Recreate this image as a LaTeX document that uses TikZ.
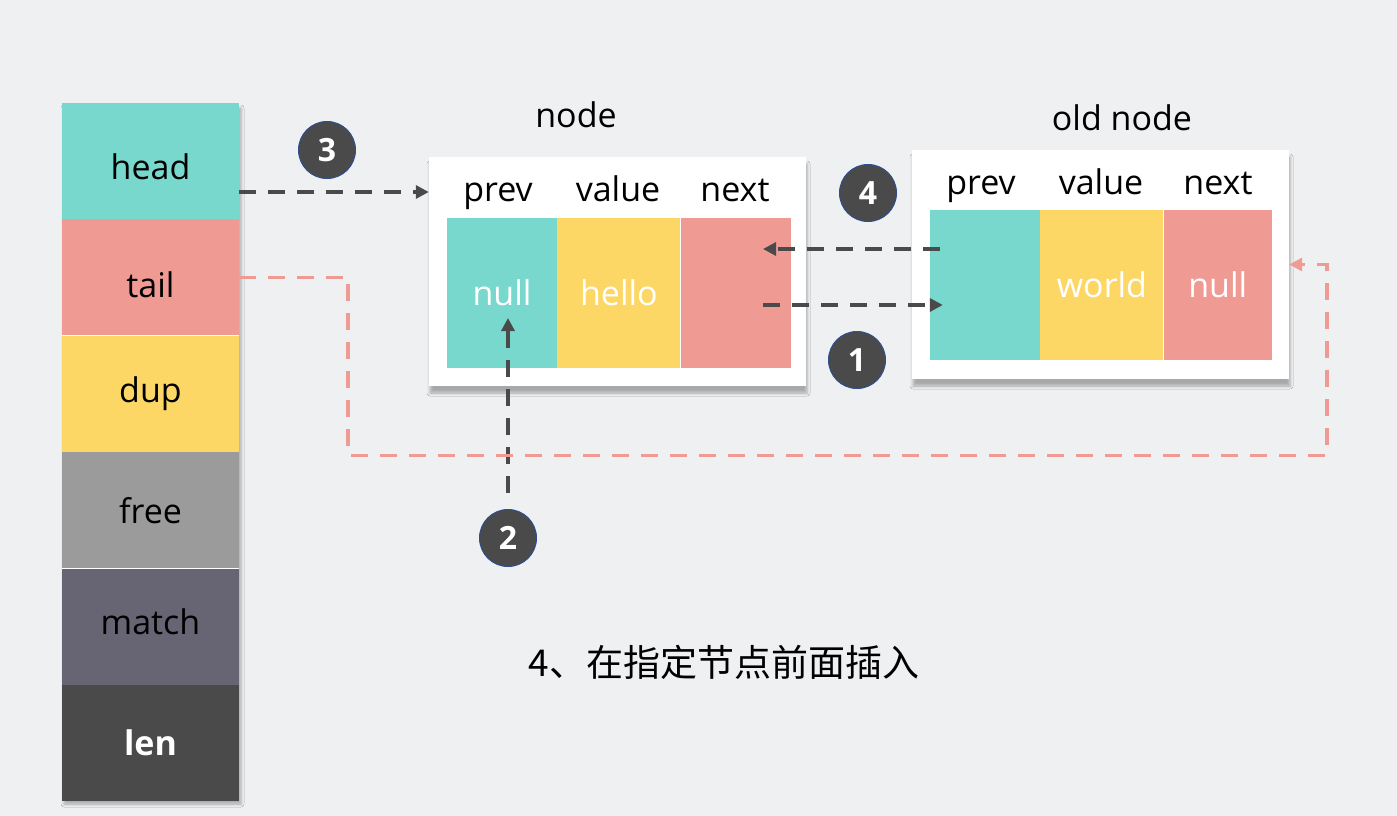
\documentclass[tikz,border=0pt]{standalone}
\usepackage{fontspec}
\setmainfont{Open Sans}
\newfontfamily\cjk{Noto Sans CJK SC}
\usepackage{tikz}
\usetikzlibrary{arrows.meta,positioning,shadows.blur}
\definecolor{bg_gray}{HTML}{EFF0F2}
\definecolor{cell_teal}{HTML}{79D8CE}
\definecolor{cell_pink}{HTML}{F09A94}
\definecolor{cell_yellow}{HTML}{FCD766}
\definecolor{cell_gray}{HTML}{9B9B9B}
\definecolor{cell_slate}{HTML}{676573}
\definecolor{cell_dark}{HTML}{4A4A4A}
\definecolor{badge_rim}{HTML}{2E4E8E}
\tikzset{
slot/.style={rectangle, inner sep=0pt, minimum width=177pt, minimum height=116pt, text=black, font=\fontsize{34}{40}\selectfont},
node_box/.style={rectangle, fill=white, inner sep=0pt, minimum width=377pt, minimum height=229pt, blur shadow={shadow xshift=1pt, shadow yshift=-7pt, shadow blur radius=3pt, shadow opacity=30}},
field_cell/.style={rectangle, inner sep=0pt, minimum height=150pt, text=white, font=\fontsize{34}{40}\selectfont},
field_name/.style={anchor=base, text=black, font=\fontsize{34}{40}\selectfont},
badge/.style={circle, fill=cell_dark, draw=badge_rim, line width=1pt, minimum size=57pt, inner sep=0pt, text=white, font=\bfseries\fontsize{32}{38}\selectfont},
link/.style={draw=cell_dark, line width=3.5pt, dash pattern=on 17pt off 12pt, -{Triangle[length=13pt,width=13pt]}},
tail_link/.style={draw=cell_pink, line width=3.5pt, dash pattern=on 17pt off 12pt, -{Triangle[length=13pt,width=13pt]}}
}

\begin{document}
\begin{tikzpicture}[x=1pt, y=-1pt]
    \path[use as bounding box, fill=bg_gray] (0,0) rectangle (1397,816);
    \fill[white, blur shadow={shadow xshift=2pt, shadow yshift=-5pt, shadow blur radius=3pt, shadow opacity=30}] (62,103) rectangle (239,799);

    \node[slot, fill=cell_teal, text height=36pt, text depth=0pt] (head) at (150.5,161) {head};
    \node[slot, fill=cell_pink, text height=40pt, text depth=0pt] (tail) [below=0 of head] {tail};
    \node[slot, fill=cell_yellow] (dup) [below=0 of tail] {dup};
    \node[slot, fill=cell_gray] (free) [below=0 of dup] {free};
    \node[slot, fill=cell_slate, text height=16pt, text depth=0pt] (match) [below=0 of free] {match};
    \node[slot, fill=cell_dark, text=white, font=\bfseries\fontsize{34}{40}\selectfont] (len) [below=0 of match] {len};

    \node[node_box] (new_box) at (617.5,271.5) {};
    \node[field_name] (new_title) at (576,127) {node};
    \node[field_cell, fill=cell_teal, minimum width=110pt] (prev_cell) at (502,293) {null};
    \node[field_cell, fill=cell_yellow, minimum width=123pt] (value_cell) [right=0 of prev_cell] {hello};
    \node[field_cell, fill=cell_pink, minimum width=110pt] (next_cell) [right=0 of value_cell] {};
    \node[field_name] (prev_name) at (498,201) {prev};
    \node[field_name] (value_name) at (618,201) {value};
    \node[field_name] (next_name) at (735,201) {next};

    \node[node_box] (old_box) at (1100.5,264.5) {};
    \node[field_name] (old_title) at (1122,130) {old node};
    \node[field_cell, fill=cell_teal, minimum width=110pt] (old_prev) at (985,285) {};
    \node[field_cell, fill=cell_yellow, minimum width=123pt] (old_value) [right=0 of old_prev] {world};
    \node[field_cell, fill=cell_pink, minimum width=108pt] (old_next) [right=0 of old_value] {null};
    \node[field_name] (old_prev_name) at (981,194) {prev};
    \node[field_name] (old_value_name) at (1101,194) {value};
    \node[field_name] (old_next_name) at (1218,194) {next};

    \node[badge] (badge_3) at (327,150) {3};
    \node[badge] (badge_4) at (868,193) {4};
    \node[badge] (badge_1) at (857,360) {1};
    \node[badge] (badge_2) at (508,538) {2};

    \draw[link] ([yshift=-31pt]head.east) -- ([yshift=-31pt]head.east -| new_box.west);
    \draw[link] ([xshift=10pt,yshift=36pt]old_prev.west) -- ([xshift=-28pt,yshift=44pt]next_cell.east);
    \draw[link] ([xshift=-28pt,yshift=-12pt]next_cell.east) -- ([xshift=13pt,yshift=-20pt]old_prev.west);
    \draw[link] ([yshift=16pt]badge_2.north) -- ([yshift=-25pt]badge_2.north |- prev_cell.center);
    \draw[tail_link] (tail.east) -- ++(109,0) -- ++(0,178) -| ([xshift=38pt]old_box.east) -- (old_box.east);

    \node[text=black, font=\cjk\fontsize{37}{44}\selectfont] (caption) at (724,662) {4、在指定节点前面插入};
\end{tikzpicture}
\end{document}
